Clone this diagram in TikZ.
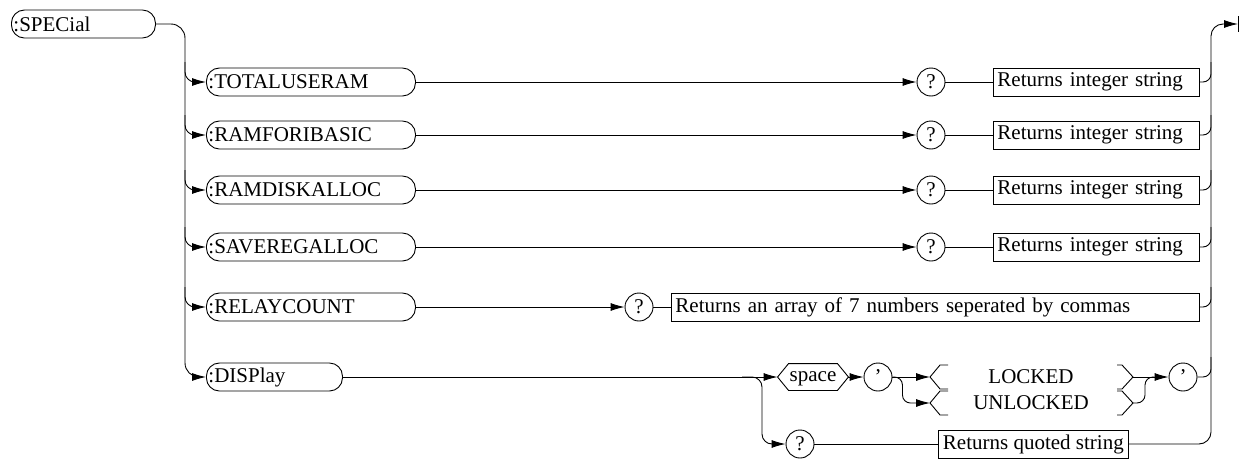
\documentclass[tikz,border=0pt]{standalone}
\usepackage{fontspec}
\setmainfont{Liberation Serif}
\usetikzlibrary{arrows.meta,calc}
\begin{document}
\begin{tikzpicture}[x=1pt,y=-1pt, line width=0.9pt,
  every node/.style={font=\fontsize{21}{24}\selectfont},
  term/.style={draw, rounded corners=13pt, minimum height=28pt, inner xsep=2pt, inner ysep=0pt, anchor=west, align=left},
  ret/.style={draw, rectangle, minimum height=28pt, inner xsep=4pt, inner ysep=0pt, anchor=west, align=left},
  circ/.style={draw, circle, minimum size=28pt, inner sep=0pt},
  plain/.style={inner sep=0pt},
  arr/.style={-{Latex[length=14pt,width=8pt]}}
]
\useasboundingbox (0,0) rectangle (1243,461);

% coordinates of the buses
\coordinate (Lx) at (185,0);
\coordinate (R) at (1211,0);
\coordinate (endp) at (1238,24);

% terminals
\node[term, text width=140pt] (spec) at (11,24) {:SPECial};
\node[term, text width=205pt] (tot) at (206,82) {:TOTALUSERAM};
\node[term, text width=205pt] (ram) at (206,135) {:RAMFORIBASIC};
\node[term, text width=205pt] (rdk) at (206,190) {:RAMDISKALLOC};
\node[term, text width=205pt] (sav) at (206,247) {:SAVEREGALLOC};
\node[term, text width=205pt] (rel) at (206,307) {:RELAYCOUNT};
\node[term, text width=132pt] (disp) at (206,377) {:DISPlay};

% query circles
\node[circ] (q1) at (931,82) {?};
\node[circ] (q2) at (931,135) {?};
\node[circ] (q3) at (931,190) {?};
\node[circ] (q4) at (931,247) {?};
\node[circ] (q5) at (639,307) {?};
\node[circ] (qd) at (800,444) {?};

% returns
\node[ret, text width=198pt] (r1) at (993,82) {Returns integer string};
\node[ret, text width=198pt] (r2) at (993,135) {Returns integer string};
\node[ret, text width=198pt] (r3) at (993,190) {Returns integer string};
\node[ret, text width=198pt] (r4) at (993,247) {Returns integer string};
\node[ret, text width=520pt] (r5) at (671,307) {Returns an array of 7 numbers seperated by commas};
\node[ret, inner xsep=4.5pt] (rq) at (938,444) {Returns quoted string};

% display set branch
\node[plain, minimum width=70pt, minimum height=26pt, text height=10pt, text depth=1pt] (sp) at (813,377) {space};
\draw (sp.west) -- ([xshift=11pt]sp.north west) -- ([xshift=-11pt]sp.north east) -- (sp.east)
      -- ([xshift=-11pt]sp.south east) -- ([xshift=11pt]sp.south west) -- cycle;
\node[circ] (qa) at (878,377) {'};
\node[plain] (lk) at (1031,377) {LOCKED};
\node[plain] (ulk) at (1031,403) {UNLOCKED};
\node[circ] (qb) at (1183,377) {'};
\coordinate (lkL) at (930,377);
\coordinate (ulkL) at (930,403);
\coordinate (lkR) at (1133,377);
\coordinate (ulkR) at (1133,403);

% brackets
\foreach \c in {lkL,ulkL}{
  \draw ($(\c)+(18,-12)$) -- ($(\c)+(10,-12)$) -- (\c) -- ($(\c)+(10,12)$) -- ($(\c)+(18,12)$);
}
\foreach \c in {lkR,ulkR}{
  \draw ($(\c)+(-16,-12)$) -- ($(\c)+(-11,-12)$) -- (\c) -- ($(\c)+(-11,12)$) -- ($(\c)+(-16,12)$);
}

% left bus
\draw[arr, rounded corners=14pt] (spec.east) -| (Lx |- disp.west) -- (disp.west);
\foreach \n in {tot,ram,rdk,sav,rel}{
  \draw[arr, rounded corners=10pt] ($(Lx |- \n.west)+(0,-20)$) |- (\n.west);
}

% rows
\foreach \n/\q/\r in {tot/q1/r1, ram/q2/r2, rdk/q3/r3, sav/q4/r4, rel/q5/r5}{
  \draw[arr] (\n.east) -- (\q.west);
  \draw (\q.east) -- (\r.west);
  \draw[rounded corners=8pt] (\r.east) -| ($(R |- \r.east)+(0,-20)$);
}

% display row
\coordinate (ds) at (742,377);
\coordinate (dv) at (762,0);
\draw[arr] (disp.east) -- (sp.west);
\draw[arr, rounded corners=10pt] (ds) -| (dv |- qd.west) -- (qd.west);
\draw[arr] (sp.east) -- (qa.west);
\draw[arr] (qa.east) -- (lkL);
\draw[arr, rounded corners=8pt] (qa.east) -- ++(10,0) |- (ulkL);
\draw[arr] (lkR) -- (qb.west);
\draw[rounded corners=8pt] (ulkR) -- ++(12,0) |- ($(qb.west)+(-14,0)$);
\draw[rounded corners=8pt] (qb.east) -| ($(R |- qb.east)+(0,-20)$);
\draw (qd.east) -- (rq.west);

% right bus and end
\draw[arr, rounded corners=12pt] (rq.east) -| (R |- endp) -- (endp);
\draw ($(endp)+(0.5,-8)$) -- ($(endp)+(0.5,8)$);
\end{tikzpicture}
\end{document}
